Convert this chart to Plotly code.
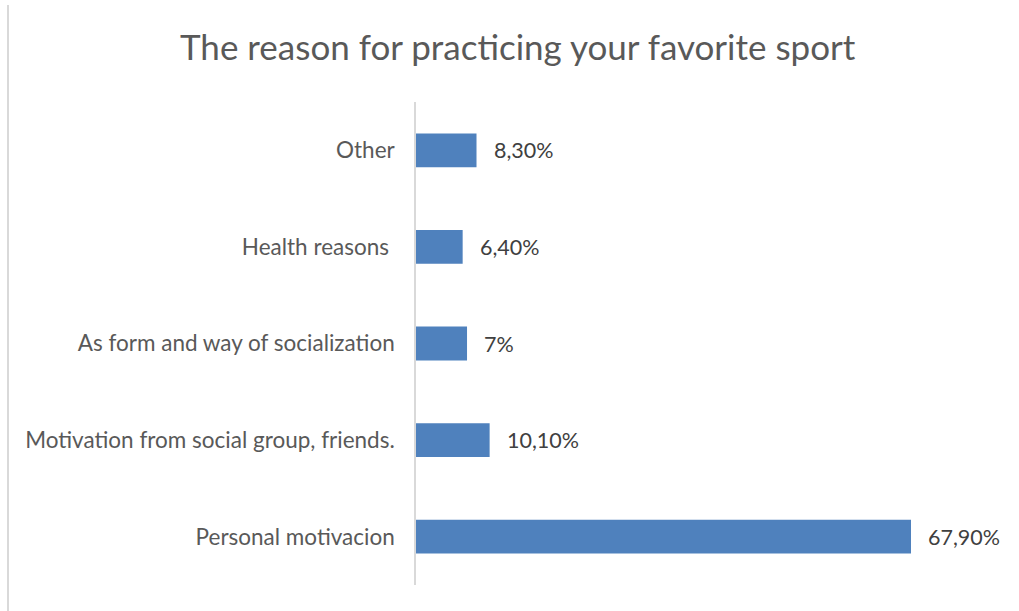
import plotly.graph_objects as go

# Survey responses, listed bottom to top
categories = [
    "Personal motivacion",
    "Motivation from social group, friends.",
    "As form and way of socialization",
    "Health reasons ",
    "Other",
]
values = [67.9, 10.1, 7.0, 6.4, 8.3]
value_labels = ["67,90%", "10,10%", "7%", "6,40%", "8,30%"]

W, H = 1019, 611
L, R, T, B = 416, 19, 102, 26
plot_w = W - L - R
plot_h = H - T - B

FONT = "Lato, Open Sans, sans-serif"

fig = go.Figure(
    go.Bar(
        x=values,
        y=categories,
        orientation="h",
        marker=dict(color="#4F81BD", line=dict(width=0)),
        hoverinfo="skip",
    )
)

# Value labels sitting just right of each bar end
for cat, v, lab in zip(categories, values, value_labels):
    fig.add_annotation(
        x=v, y=cat, xref="x", yref="y",
        text=lab, showarrow=False,
        xanchor="left", yanchor="middle", xshift=15,
        font=dict(family=FONT, size=21.5, color="#404040"),
    )

# Thin frame line along the left edge of the chart
fig.add_shape(
    type="line", xref="paper", yref="paper",
    x0=(8 - L) / plot_w, x1=(8 - L) / plot_w,
    y0=(H - B - H) / plot_h, y1=(H - B - 5) / plot_h,
    line=dict(color="#d9d9d9", width=2),
)

fig.update_layout(
    width=W, height=H,
    margin=dict(l=L, r=R, t=T, b=B, pad=0),
    paper_bgcolor="white", plot_bgcolor="white",
    bargap=0.65,
    showlegend=False,
    title=dict(
        text="The reason for practicing your favorite sport",
        x=0.508, xanchor="center", xref="container",
        y=1 - 48 / H, yanchor="middle", yref="container",
        font=dict(family=FONT, size=35, color="#595959"),
    ),
    xaxis=dict(
        range=[0, 67.9 * plot_w / 495],
        showgrid=False, zeroline=False, showline=False,
        showticklabels=False, ticks="",
    ),
    yaxis=dict(
        categoryorder="array", categoryarray=categories,
        showgrid=False, zeroline=False,
        showline=True, linecolor="#d9d9d9", linewidth=1.5,
        ticks="", ticklabelstandoff=15,
        tickfont=dict(family=FONT, size=22.5, color="#595959"),
    ),
)

fig.write_html("out.html")
